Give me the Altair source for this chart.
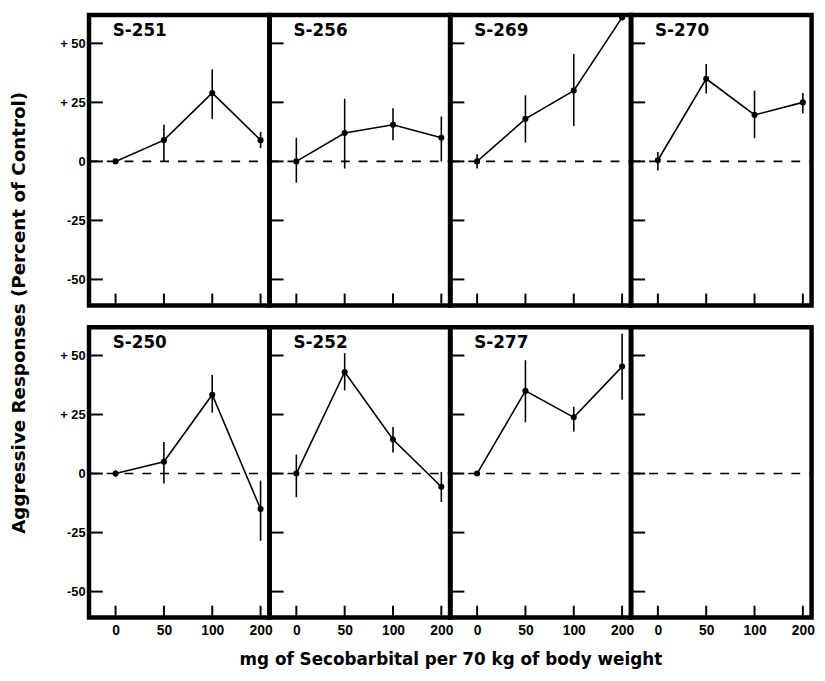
import altair as alt
import pandas as pd

# ---------------- data ----------------
doses = ["0", "50", "100", "200"]
dose_pos = [0, 1, 2, 3]
y_ticks = [-50, -25, 0, 25, 50]

panel_names = ["S-251", "S-256", "S-269", "S-270", "S-250", "S-252", "S-277", ""]

s251_mean = [0, 9, 29, 9]
s251_low = [0, 0, 18, 5.6]
s251_high = [0, 15.5, 39, 12.5]

s256_mean = [0, 12, 15.5, 10]
s256_low = [-9, -3, 9, 0]
s256_high = [10, 26.5, 22.5, 19]

s269_mean = [0, 18, 30, 61]
s269_low = [-3, 8, 15, 61]
s269_high = [3, 28, 45.5, 61]

s270_mean = [0.5, 35, 19.7, 25]
s270_low = [-3.8, 28.8, 9.8, 20.4]
s270_high = [4, 41.3, 30, 29]

s250_mean = [0, 5, 33.4, -15]
s250_low = [-1.4, -4.2, 25.8, -28.5]
s250_high = [1.4, 13.4, 41.8, -3]

s252_mean = [0, 43, 14.4, -5.6]
s252_low = [-10, 35.2, 8.9, -12]
s252_high = [8, 51, 19.7, 0.7]

s277_mean = [0, 35, 23.8, 45.3]
s277_low = [0, 21.7, 17.8, 31.3]
s277_high = [0, 48, 28.3, 59.2]

blank_mean, blank_low, blank_high = [], [], []

series = [
    (s251_mean, s251_low, s251_high),
    (s256_mean, s256_low, s256_high),
    (s269_mean, s269_low, s269_high),
    (s270_mean, s270_low, s270_high),
    (s250_mean, s250_low, s250_high),
    (s252_mean, s252_low, s252_high),
    (s277_mean, s277_low, s277_high),
    (blank_mean, blank_low, blank_high),
]

# ---------------- styling ----------------
FONT = "Liberation Sans"
TFONT = "DejaVu Sans"
W, H = 182.5, 294
XDOM = [-0.55, 3.18]
YDOM = [-61, 62]

x_label_expr = "[" + ",".join("'%s'" % d for d in doses) + "][datum.value]"
y_label_expr = "datum.value > 0 ? '+ ' + datum.value : '' + datum.value"


def panel(name, mean, low, high, show_y, show_x):
    xs = alt.Scale(domain=XDOM, nice=False, zero=False)
    ys = alt.Scale(domain=YDOM, nice=False, zero=False)
    if show_x:
        xax = alt.Axis(values=dose_pos, labelExpr=x_label_expr, ticks=False,
                       domain=False, grid=False, title=None, labelFont=FONT,
                       labelFontSize=14, labelFontWeight="bold", labelColor="black",
                       labelPadding=6, labelFlush=False, labelOverlap=False)
    else:
        xax = None
    if show_y:
        yax = alt.Axis(values=y_ticks, labelExpr=y_label_expr, ticks=False,
                       domain=False, grid=False, title=None, labelFont=FONT,
                       labelFontSize=13, labelFontWeight="bold", labelColor="black",
                       labelPadding=4, labelFlush=False, labelOverlap=False)
    else:
        yax = None

    def X():
        return alt.X("pos:Q", scale=xs, axis=xax)

    def Y(field="v:Q"):
        return alt.Y(field, scale=ys, axis=yax)

    layers = []
    zero_df = pd.DataFrame({"v": [0]})
    layers.append(
        alt.Chart(zero_df).mark_rule(color="black", strokeWidth=1.6, strokeDash=[9, 9])
        .encode(y=Y(), x=alt.value(0), x2=alt.value(W))
    )
    yt_df = pd.DataFrame({"v": y_ticks})
    layers.append(
        alt.Chart(yt_df).mark_rule(color="black", strokeWidth=2)
        .encode(y=Y(), x=alt.value(0), x2=alt.value(14))
    )
    xt_df = pd.DataFrame({"pos": dose_pos})
    layers.append(
        alt.Chart(xt_df).mark_rule(color="black", strokeWidth=2)
        .encode(x=X(), y=alt.value(H), y2=alt.value(H - 12))
    )
    if mean:
        df = pd.DataFrame({"pos": dose_pos[:len(mean)], "v": mean, "lo": low, "hi": high})
        layers.append(
            alt.Chart(df).mark_rule(color="black", strokeWidth=1.6)
            .encode(x=X(), y=Y("lo:Q"), y2="hi:Q")
        )
        layers.append(
            alt.Chart(df).mark_line(color="black", strokeWidth=1.6, clip=True)
            .encode(x=X(), y=Y())
        )
        layers.append(
            alt.Chart(df).mark_point(color="black", filled=True, size=38, opacity=1, clip=True)
            .encode(x=X(), y=Y())
        )
    if name:
        txt_df = pd.DataFrame({"t": [name]})
        layers.append(
            alt.Chart(txt_df).mark_text(font=TFONT, fontSize=17, fontWeight="bold",
                                        align="left", baseline="middle", color="black")
            .encode(text="t:N", x=alt.value(24), y=alt.value(16))
        )
    return alt.layer(*layers).properties(width=W, height=H)


panels = []
for i, (name, (m, lo, hi)) in enumerate(zip(panel_names, series)):
    panels.append(panel(name, m, lo, hi, show_y=(i % 4 == 0), show_x=(i >= 4)))

top_row = alt.hconcat(*panels[:4], spacing=0, bounds="flush")
bottom_row = alt.hconcat(*panels[4:], spacing=0, bounds="flush").properties(
    title=alt.TitleParams(text="mg of Secobarbital per 70 kg of body weight",
                          orient="bottom", anchor="middle", font=TFONT, fontSize=17,
                          fontWeight="bold", color="black", offset=13, dx=14)
)

chart = alt.vconcat(top_row, bottom_row, spacing=15).properties(
    title=alt.TitleParams(text="Aggressive Responses (Percent of Control)",
                          orient="left", anchor="middle", font=TFONT, fontSize=18.5,
                          fontWeight="bold", color="black", offset=29, dx=28),
    padding={"left": 2, "top": 0, "right": 0, "bottom": 0},
).configure(
    background="white",
    view=alt.ViewConfig(stroke="black", strokeWidth=4.5),
)

chart.save("out.html", embed_options={"renderer": "svg", "actions": False})
